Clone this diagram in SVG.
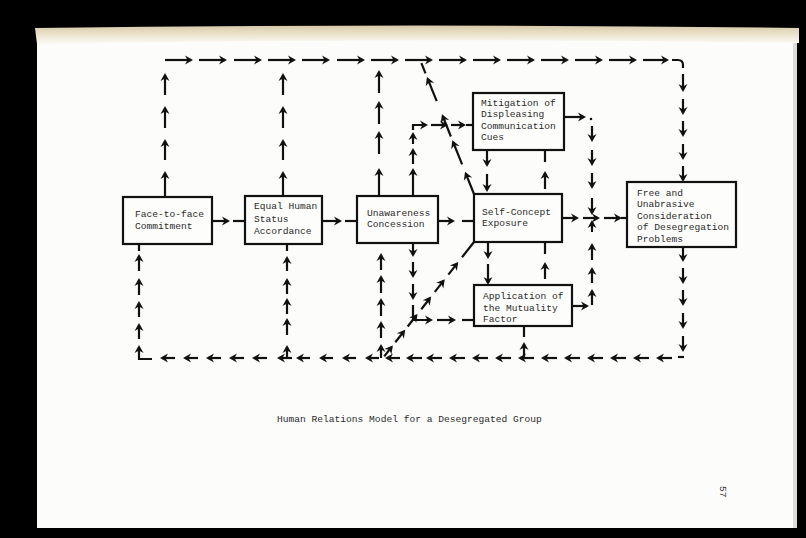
<svg xmlns="http://www.w3.org/2000/svg" width="806" height="538" viewBox="0 0 806 538">
<defs>
<linearGradient id="curl" x1="0" y1="0" x2="0" y2="1">
<stop offset="0" stop-color="#d6c9a8"/>
<stop offset="0.45" stop-color="#ece2cb"/>
<stop offset="1" stop-color="#fbfaf6"/>
</linearGradient>
<marker id="ah" viewBox="-10 -6 12 12" refX="-2" refY="0" markerWidth="12" markerHeight="12" orient="auto" markerUnits="userSpaceOnUse">
<path d="M-8,-4.5 L0,0 L-8,4.5 L-5.5,0 Z" fill="#111"/>
</marker>
</defs>
<style>
.a{fill:none;stroke:#111;stroke-width:2.2;marker-end:url(#ah)}
.d{fill:none;stroke:#111;stroke-width:2.2}
.box{fill:#fdfdfb;stroke:#111;stroke-width:2.2}
.t{font-family:"Liberation Mono","DejaVu Sans Mono",monospace;font-size:9.6px;fill:#2a2a2a}
</style>
<rect width="806" height="538" fill="#000"/>
<rect x="37" y="28" width="760" height="500" fill="#fcfcfa"/>
<rect x="793" y="40" width="4" height="488" fill="#dcdcd8"/>
<path d="M35,28 Q420,23 799,28 L799,43 Q420,37 37,44 Z" fill="url(#curl)"/>

<g id="connectors">
<!-- top row -->
<path class="a" d="M165,60h26"/><path class="a" d="M199,60h26"/><path class="a" d="M234,60h26"/>
<path class="a" d="M268,60h26"/><path class="a" d="M302,60h26"/><path class="a" d="M337,60h26"/>
<path class="a" d="M371,60h26"/><path class="a" d="M405,60h26"/><path class="a" d="M439,60h26"/>
<path class="a" d="M473,60h26"/><path class="a" d="M507,60h26"/><path class="a" d="M541,60h26"/>
<path class="a" d="M575,60h26"/><path class="a" d="M609,60h26"/><path class="a" d="M643,60h24"/>
<path class="d" d="M672,60h6q5,0 5,5v3"/>
<!-- right column -->
<path class="a" d="M683,74V90"/><path class="a" d="M683,99V113"/><path class="a" d="M683,121V135"/>
<path class="a" d="M683,144V158"/><path class="a" d="M683,166V180"/>
<path class="a" d="M683,248V260"/><path class="a" d="M683,268V282"/><path class="a" d="M683,290V304"/>
<path class="a" d="M683,313V327"/><path class="a" d="M683,336V350"/>
<path class="d" d="M678,357h6"/>
<!-- bottom row -->
<path class="a" d="M672,358H658"/><path class="a" d="M649,358H635"/><path class="a" d="M626,358H612"/>
<path class="a" d="M603,358H589"/><path class="a" d="M580,358H566"/><path class="a" d="M557,358H543"/>
<path class="a" d="M534,358H520"/><path class="a" d="M511,358H497"/><path class="a" d="M488,358H474"/>
<path class="a" d="M465,358H451"/><path class="a" d="M442,358H428"/><path class="a" d="M422,358H408"/>
<path class="a" d="M400,358H387"/>
<path class="a" d="M379,358H367"/><path class="a" d="M356,358H344"/><path class="a" d="M333,358H321"/>
<path class="a" d="M310,358H298"/>
<path class="a" d="M292,358H279"/><path class="a" d="M287,358V347"/>
<path class="a" d="M267,358H254"/><path class="a" d="M244,358H231"/><path class="a" d="M221,358H208"/>
<path class="a" d="M198,358H185"/><path class="a" d="M175,358H162"/>
<path class="a" d="M152,359H139V347"/>
<!-- left column under Face -->
<path class="a" d="M139,339V325"/><path class="a" d="M139,317V303"/><path class="a" d="M139,295V280"/>
<path class="a" d="M139,271V256"/><path class="d" d="M139,244V251"/>
<!-- column under Equal -->
<path class="a" d="M287,271V258"/><path class="a" d="M287,294V280"/><path class="a" d="M287,314V300"/>
<path class="a" d="M287,335V320"/><path class="d" d="M287,244V251"/>
<!-- column under Unawareness -->
<path class="a" d="M381,270V255"/><path class="a" d="M381,293V277"/><path class="a" d="M381,316V300"/>
<path class="a" d="M381,338V323"/><path class="a" d="M381,358V346"/>
<!-- columns above boxes -->
<path class="a" d="M165,197V173"/><path class="a" d="M165,160V141"/><path class="a" d="M165,128V108"/><path class="a" d="M165,95V75"/>
<path class="a" d="M283,196V173"/><path class="a" d="M283,160V141"/><path class="a" d="M283,128V108"/><path class="a" d="M283,95V75"/>
<path class="a" d="M379,196V170"/><path class="a" d="M379,154V133"/><path class="a" d="M379,124V103"/><path class="a" d="M379,93V72"/>
<!-- Unawareness up to Mitigation -->
<path class="a" d="M413,196V170"/><path class="a" d="M413,164V150"/><path class="a" d="M413,144V134"/>
<path class="a" d="M413,130V125H426"/>
<path class="a" d="M431,125H446"/><path class="a" d="M451,125H464"/><path class="d" d="M466,125H473"/>
<!-- Unawareness down to Application -->
<path class="a" d="M413,243V255"/><path class="a" d="M413,262V276"/><path class="a" d="M413,284V298"/>
<path class="a" d="M413,305V320H431"/>
<path class="a" d="M437,320H454"/><path class="d" d="M462,320H474"/>
<!-- box to box -->
<path class="a" d="M212,221H228"/><path class="d" d="M233,221H245"/>
<path class="a" d="M323,221H340"/><path class="d" d="M345,221H357"/>
<path class="a" d="M438,221H453"/><path class="d" d="M462,221H474"/>
<path class="a" d="M562,218H577"/><path class="a" d="M583,218H598"/><path class="a" d="M604,218H620"/><path class="d" d="M621,218H627"/>
<!-- Mitigation right and down -->
<path class="a" d="M564,117H584"/><circle cx="591" cy="119" r="1.3" fill="#111"/>
<path class="a" d="M592,126V140"/><path class="a" d="M592,150V164"/><path class="a" d="M592,173V187"/><path class="a" d="M592,198V213"/>
<!-- Application right and up -->
<path class="a" d="M572,306H587"/>
<path class="a" d="M592,305V291"/><path class="a" d="M592,283V269"/><path class="a" d="M592,260V245"/><path class="a" d="M592,232V222"/>
<!-- Mitigation / Self / Application verticals -->
<path class="a" d="M487,150V165"/><path class="a" d="M487,174V190"/>
<path class="d" d="M545,150V162"/><path class="a" d="M545,189V173"/>
<path class="a" d="M488,242V257"/><path class="a" d="M488,264V283"/>
<path class="d" d="M545,242V254"/><path class="a" d="M545,279V264"/>
<path class="d" d="M524,326V337"/><path class="a" d="M524,358V344"/>
<!-- upper diagonal -->
<path class="a" d="M474,194L465.8,173.6"/><path class="a" d="M462.1,164.3L453.1,142"/>
<path class="a" d="M450.9,136.5L442.7,116"/><path class="a" d="M436.7,101.2L427.7,78.9"/>
<path class="d" d="M425.5,73.4L421.4,63.2"/>
<!-- lower diagonal -->
<path class="a" d="M384.2,356.4L391.6,347"/><path class="a" d="M395.3,342.3L404,331.2"/>
<path class="a" d="M407.7,326.5L416.3,315.5"/><path class="a" d="M421.3,309.2L429.9,298.2"/>
<path class="a" d="M434.8,291.9L443.5,280.9"/><path class="a" d="M448.4,274.6L457,263.6"/>
<path class="d" d="M462,257.3L474,242"/>
</g>

<g id="face">
<rect class="box" x="123" y="197" width="89" height="47"/>
<text class="t" x="135" y="217">Face-to-face</text>
<text class="t" x="135" y="229">Commitment</text>
</g>
<g id="equal">
<rect class="box" x="245" y="196" width="77" height="48"/>
<text class="t" x="254" y="209">Equal Human</text>
<text class="t" x="254" y="222">Status</text>
<text class="t" x="254" y="234">Accordance</text>
</g>
<g id="unawareness">
<rect class="box" x="357" y="196" width="81" height="47"/>
<text class="t" x="367" y="216">Unawareness</text>
<text class="t" x="367" y="227">Concession</text>
</g>
<g id="self">
<rect class="box" x="474" y="194" width="88" height="48"/>
<text class="t" x="482" y="215">Self-Concept</text>
<text class="t" x="482" y="226">Exposure</text>
</g>
<g id="mitigation">
<rect class="box" x="473" y="93" width="91" height="57"/>
<text class="t" x="481" y="106">Mitigation of</text>
<text class="t" x="481" y="117">Displeasing</text>
<text class="t" x="481" y="129">Communication</text>
<text class="t" x="481" y="140">Cues</text>
</g>
<g id="application">
<rect class="box" x="474" y="285" width="98" height="41"/>
<text class="t" x="483" y="299">Application of</text>
<text class="t" x="483" y="311">the Mutuality</text>
<text class="t" x="483" y="322">Factor</text>
</g>
<g id="free">
<rect class="box" x="627" y="182" width="109" height="65"/>
<text class="t" x="637" y="196">Free and</text>
<text class="t" x="637" y="207">Unabrasive</text>
<text class="t" x="637" y="219">Consideration</text>
<text class="t" x="637" y="230">of Desegregation</text>
<text class="t" x="637" y="242">Problems</text>
</g>

<text class="t" x="277" y="422">Human Relations Model for a Desegregated Group</text>
<text class="t" x="0" y="0" transform="translate(720,486) rotate(90)">57</text>
</svg>
